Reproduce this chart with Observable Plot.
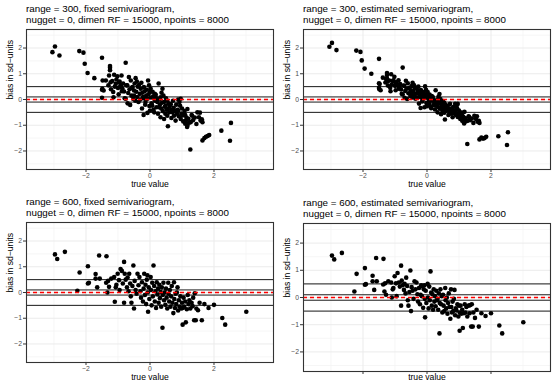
<!DOCTYPE html>
<html><head><meta charset="utf-8">
<script src="https://cdn.jsdelivr.net/npm/d3@7"></script>
<script src="https://cdn.jsdelivr.net/npm/@observablehq/plot@0.6"></script>
<style>
body{margin:0;background:#fff;}
#wrap{position:relative;width:554px;height:388px;overflow:hidden;font-family:"Liberation Sans",Arial,sans-serif;background:#fff;}
.title{position:absolute;font-size:9.8px;line-height:11px;color:#000;white-space:nowrap;}
.panel{position:absolute;}
</style></head><body><div id="wrap"></div>
<script>
const titles = [
  ["range = 300, fixed semivariogram,", "nugget = 0, dimen RF = 15000, npoints = 8000"],
  ["range = 300, estimated semivariogram,", "nugget = 0, dimen RF = 15000, npoints = 8000"],
  ["range = 600, fixed semivariogram,", "nugget = 0, dimen RF = 15000, npoints = 8000"],
  ["range = 600, estimated semivariogram,", "nugget = 0, dimen RF = 15000, npoints = 8000"]
];
const xLabel = "true value";
const yLabel = "bias in sd\u2212units";

const trueValue300 = [-3.05,-2.97,-2.83,-2.21,-2.08,-2.04,-1.95,-1.74,-1.50,-1.50,-1.45,-1.48,-1.38,-1.50,-1.25,-1.25,-1.25,-0.76,-1.28,-1.12,-1.02,-0.89,-1.23,-1.07,-0.97,-1.49,
-1.30,-1.22,-1.18,-1.15,-1.14,-1.10,-1.05,-1.00,-0.98,-0.95,-0.92,-0.90,-0.88,-0.86,-0.84,-0.81,-0.79,-0.76,-0.74,-0.71,-0.70,-0.68,-0.66,-0.64,-0.62,-0.60,-0.58,-0.56,-0.55,-0.52,-0.50,-0.50,-0.48,-0.46,-0.45,-0.43,-0.41,-0.40,-0.38,-0.36,-0.34,-0.32,-0.30,-0.29,-0.27,-0.25,-0.24,-0.22,-0.20,-0.19,-0.19,-0.17,-0.15,-0.14,-0.12,-0.10,-0.08,-0.08,-0.06,-0.05,-0.03,-0.02,0.00,0.00,0.02,0.03,0.05,0.07,0.08,0.10,0.11,0.13,0.13,0.15,0.16,0.18,0.20,0.21,0.23,0.25,0.27,0.28,0.30,0.31,0.33,0.33,0.35,0.36,0.38,0.39,0.40,0.42,0.44,0.44,0.46,0.48,0.49,0.50,0.52,0.54,0.54,0.56,0.56,0.58,0.60,0.62,0.65,0.67,0.68,0.70,0.72,0.74,0.75,0.78,0.80,0.82,0.84,0.86,0.88,0.88,0.90,0.92,0.94,0.96,0.96,0.98,1.00,1.02,1.04,1.06,1.08,1.10,1.10,1.12,1.14,1.16,1.17,1.17,1.20,1.22,1.26,1.27,1.30,1.32,1.35,1.40,1.45,1.48,1.53,1.56,1.58,1.62,1.64,1.64,1.70,1.75,1.80,1.85,2.23,2.50,2.53];
const biasFixed300 = [1.84,2.06,1.71,1.88,1.82,1.39,1.03,0.83,1.62,0.38,0.35,0.74,0.74,0.07,1.30,1.23,1.14,1.43,0.93,0.96,0.90,0.93,0.67,0.61,0.67,0.42,
0.55,0.40,0.72,0.29,0.09,0.50,0.78,0.45,0.20,0.70,0.55,0.48,0.32,0.42,0.62,0.31,0.05,0.03,0.55,0.55,-0.15,0.25,0.87,0.40,-0.21,0.74,0.15,0.45,0.48,0.02,0.35,0.15,0.62,-0.05,0.83,0.30,0.70,0.10,0.50,-0.10,0.57,0.22,0.00,0.42,0.65,-0.35,0.26,0.10,-0.60,0.48,0.05,0.32,-0.20,-0.10,0.15,0.38,0.03,-0.52,0.74,0.20,0.55,-0.25,0.29,-0.43,0.42,0.08,-0.15,-0.24,0.30,0.12,-0.40,0.03,-0.50,0.22,-0.05,0.18,-0.30,0.05,-0.10,-0.55,0.62,-0.30,0.00,-0.20,0.09,-0.69,-0.35,0.26,-0.12,0.42,-0.45,0.15,-0.10,-0.76,-0.28,-0.55,-0.24,0.05,-0.40,-0.05,-0.63,-0.37,-1.04,-0.15,-0.50,-0.25,-0.18,-0.72,-0.40,-0.50,-0.05,-0.32,-0.63,-0.45,-0.82,-0.20,-0.55,-0.40,-0.43,0.00,-0.65,-0.10,-0.24,0.03,-0.76,-0.55,-0.35,-0.62,-0.85,-0.56,-0.45,-0.94,-0.60,-0.82,-0.70,-1.07,-0.37,-1.01,-0.75,-0.90,-1.94,-0.88,-0.60,-0.63,-0.80,-0.70,-0.95,-0.50,-0.69,-0.51,-0.82,-0.77,-0.88,-1.59,-1.50,-1.45,-1.42,-1.38,-1.21,-1.60,-0.91];
const biasEst300 = [2.05,2.20,1.92,1.90,1.85,1.52,1.20,1.00,1.58,0.63,0.36,0.60,0.85,0.45,1.03,0.95,0.82,1.24,0.80,0.98,0.88,0.75,0.70,0.72,0.62,0.40,
0.66,0.54,0.74,0.46,0.32,0.58,0.75,0.53,0.36,0.68,0.57,0.52,0.42,0.48,0.60,0.39,0.22,0.20,0.54,0.53,0.07,0.33,0.73,0.42,0.02,0.63,0.24,0.43,0.45,0.14,0.35,0.22,0.52,0.08,0.65,0.31,0.56,0.17,0.43,0.03,0.46,0.23,0.08,0.35,0.50,-0.16,0.24,0.13,-0.33,0.37,0.09,0.26,-0.08,-0.02,0.14,0.29,0.05,-0.30,0.51,0.16,0.38,-0.14,0.21,-0.26,0.29,0.06,-0.09,-0.15,0.19,0.07,-0.27,0.01,-0.34,0.13,-0.05,0.10,-0.22,0.00,-0.10,-0.39,0.36,-0.24,-0.05,-0.18,0.00,-0.50,-0.29,0.11,-0.14,0.21,-0.36,0.02,-0.14,-0.57,-0.26,-0.44,-0.25,-0.06,-0.36,-0.13,-0.51,-0.34,-0.78,-0.21,-0.44,-0.28,-0.24,-0.60,-0.39,-0.46,-0.17,-0.35,-0.55,-0.44,-0.69,-0.29,-0.52,-0.43,-0.45,-0.17,-0.60,-0.25,-0.34,-0.17,-0.68,-0.55,-0.43,-0.61,-0.76,-0.58,-0.51,-0.83,-0.61,-0.76,-0.68,-0.93,-0.48,-0.89,-0.73,-0.83,-1.73,-0.83,-0.65,-0.68,-0.80,-0.74,-0.91,-0.63,-0.76,-0.65,-0.86,-0.83,-0.91,-1.55,-1.48,-1.52,-1.50,-1.45,-1.43,-1.77,-1.27];

const trueValue600 = [-2.97,-2.90,-2.66,-2.27,-2.20,-1.94,-1.94,-1.91,-1.70,-1.70,-1.65,-1.59,-1.57,-1.36,-1.37,-1.31,-1.33,-1.28,-1.21,-1.12,-1.05,-1.01,-0.97,-1.07,-1.10,-0.95,-0.92,-0.88,-0.85,-0.81,-0.81,-0.79,-0.76,-0.72,-0.70,-0.67,-0.65,-0.62,-0.60,-0.58,-0.55,-0.52,-0.50,-0.48,-0.45,-0.42,-0.39,-0.36,-0.33,-0.30,-0.28,-0.25,-0.22,-0.20,-0.18,-0.16,-0.14,-0.12,-0.10,-0.08,-0.07,-0.06,-0.04,-0.02,0.02,0.03,0.05,0.07,0.09,0.11,0.13,0.15,0.17,0.19,0.21,0.23,0.25,0.27,0.29,0.31,0.33,0.35,0.37,0.39,0.40,0.42,0.44,0.46,0.48,0.50,0.52,0.54,0.57,0.58,0.60,0.62,0.64,0.66,0.68,0.70,0.73,0.75,0.76,0.78,0.80,0.82,0.84,0.86,0.88,0.90,0.92,0.95,0.98,1.00,1.02,1.02,1.05,1.07,1.10,1.12,1.15,1.18,1.20,1.23,1.26,1.30,1.33,1.35,1.38,1.40,1.43,1.45,1.50,1.55,1.62,1.70,1.83,2.00,2.26,2.35,3.01];
const biasFixed600 = [1.48,1.30,1.58,0.07,0.78,1.02,0.35,0.38,0.72,0.54,0.20,1.44,0.54,1.41,0.38,0.45,0.00,0.22,0.54,0.60,0.30,0.73,0.48,0.20,-0.36,0.10,0.91,0.84,0.35,1.19,-0.40,0.73,0.50,0.20,0.58,0.05,0.73,0.35,-0.15,-0.40,0.25,1.05,-0.62,0.45,0.10,-0.05,0.73,0.28,0.60,0.05,-0.20,0.40,-0.35,0.15,0.73,-0.10,0.30,-0.45,0.50,0.67,0.00,-0.75,0.20,-0.25,0.60,0.10,-0.50,0.38,-0.15,1.05,0.25,-0.35,0.05,-0.60,0.40,-0.08,0.15,-0.40,0.30,-0.22,0.02,-0.55,0.20,-1.37,-0.10,0.38,-0.30,0.00,-0.48,0.15,-0.20,-0.62,0.38,-0.05,-0.35,0.10,-0.55,-0.15,0.25,-0.40,-0.80,0.40,-0.25,-0.60,-0.05,-0.45,0.00,0.20,-0.70,-0.30,-0.55,-0.15,-0.62,-0.40,-1.25,-0.60,-0.20,-0.55,-0.35,-1.16,-0.65,-0.10,-0.45,-0.30,-0.62,-0.40,-0.53,-0.20,-1.08,-0.03,-1.08,-0.62,-0.69,-0.40,-1.08,-0.45,-0.60,-0.48,-0.99,-1.25,-0.75];
const biasEst600 = [1.54,1.40,1.64,0.22,0.87,1.08,0.47,0.49,0.80,0.60,0.28,1.45,0.60,1.42,0.48,0.52,0.22,0.10,0.60,0.55,0.35,0.78,0.52,0.30,0.00,0.05,0.90,0.55,0.40,1.17,-0.30,0.62,0.45,0.28,0.50,0.15,0.73,0.42,-0.10,-0.30,0.20,0.99,-0.50,0.38,0.25,-0.05,0.60,0.30,0.55,0.12,-0.15,0.35,-0.25,0.10,0.45,0.05,0.40,-0.38,0.30,0.45,-0.05,-0.73,0.25,-0.20,0.50,0.00,-0.40,0.40,-0.10,0.96,0.18,-0.30,0.12,-0.45,0.30,-0.15,0.05,-0.32,0.25,-0.10,-0.05,-0.45,0.15,-1.32,-0.20,0.30,-0.25,0.05,-0.55,0.10,-0.30,-0.50,0.35,-0.10,-0.40,0.00,-0.60,-0.20,0.15,-0.35,-0.78,0.30,-0.35,-0.55,-0.15,-0.50,-0.05,0.28,-0.65,-0.40,-0.48,-0.25,-0.70,-0.30,-1.22,-0.55,-0.30,-0.60,-0.45,-1.12,-0.58,-0.25,-0.55,-0.35,-0.70,-0.30,-0.58,-0.28,-1.07,-0.25,-1.07,-0.55,-0.75,-0.45,-1.07,-0.58,-0.68,-0.58,-1.03,-1.32,-0.91];

const xTicks = [-2, 0, 2];
const yTicks = [-2, -1, 0, 1, 2];
const xMinor = [-3, -1, 1, 3];
const yMinor = [-2.5, -1.5, -0.5, 0.5, 1.5, 2.5];
const refLines = [0.5, 0.1, -0.1, -0.5];
const zeroLine = [0];
const xDomain = [-3.86, 3.86];
const yDomain = [-2.72, 2.72];

const panels = [
  {x: trueValue300, y: biasFixed300, left: 0, top: 0, mt: 29, mb: 25, showX: true, xdy: 17, title: titles[0]},
  {x: trueValue300, y: biasEst300, left: 277, top: 0, mt: 29, mb: 25, showX: true, xdy: 17, title: titles[1]},
  {x: trueValue600, y: biasFixed600, left: 0, top: 193, mt: 29, mb: 25, showX: true, xdy: 17, title: titles[2]},
  {x: trueValue600, y: biasEst600, left: 277, top: 194, mt: 29, mb: 17, showX: false, xdy: 8, title: titles[3]}
];

const wrap = document.getElementById("wrap");
const FONT = "'Liberation Sans', Arial, sans-serif";
const fmt = d => d < 0 ? "\u2212" + Math.abs(d) : String(d);

for (const p of panels) {
  const data = p.x.map((v, i) => ({x: v, y: p.y[i]}));
  const svg = Plot.plot({
    width: 277, height: 194,
    marginLeft: 26, marginRight: 4, marginTop: p.mt, marginBottom: p.mb,
    style: {fontFamily: FONT, background: "transparent", overflow: "visible"},
    x: {domain: xDomain, axis: null},
    y: {domain: yDomain, axis: null},
    marks: [
      Plot.gridX(xMinor, {stroke: "#F2F2F2", strokeOpacity: 1, strokeWidth: 0.7}),
      Plot.gridY(yMinor, {stroke: "#F2F2F2", strokeOpacity: 1, strokeWidth: 0.7}),
      Plot.gridX(xTicks, {stroke: "#EBEBEB", strokeOpacity: 1, strokeWidth: 1}),
      Plot.gridY(yTicks, {stroke: "#EBEBEB", strokeOpacity: 1, strokeWidth: 1}),
      Plot.ruleY(refLines, {stroke: "#1a1a1a", strokeWidth: 1}),
      Plot.dot(data, {x: "x", y: "y", r: 2.3, fill: "black", stroke: null}),
      Plot.ruleY(zeroLine, {stroke: "#FF0000", strokeOpacity: 1, strokeWidth: 1.5, strokeDasharray: "4,3"}),
      Plot.frame({stroke: "#333333", strokeWidth: 1.1}),
      Plot.axisX(xTicks, {tickSize: 3, tickPadding: 1, stroke: "#333333", fill: "#4D4D4D", fontSize: 6.8, label: null,
        tickFormat: p.showX ? fmt : (() => "")}),
      Plot.axisY(yTicks, {tickSize: 3, tickPadding: 1.5, stroke: "#333333", fill: "#4D4D4D", fontSize: 6.8, label: null,
        tickFormat: fmt}),
      Plot.text([xLabel], {frameAnchor: "bottom", dy: p.xdy, fontSize: 8.6, fill: "black", text: d => d}),
      Plot.text([yLabel], {frameAnchor: "left", dx: -16, rotate: -90, fontSize: 8.6, fill: "black", text: d => d})
    ]
  });
  const holder = document.createElement("div");
  holder.className = "panel";
  holder.style.left = p.left + "px";
  holder.style.top = p.top + "px";
  holder.appendChild(svg);
  wrap.appendChild(holder);

  const t = document.createElement("div");
  t.className = "title";
  t.style.left = (p.left + 26) + "px";
  t.style.top = (p.top + 3) + "px";
  t.innerHTML = p.title[0] + "<br>" + p.title[1];
  wrap.appendChild(t);
}
</script>
</body></html>
